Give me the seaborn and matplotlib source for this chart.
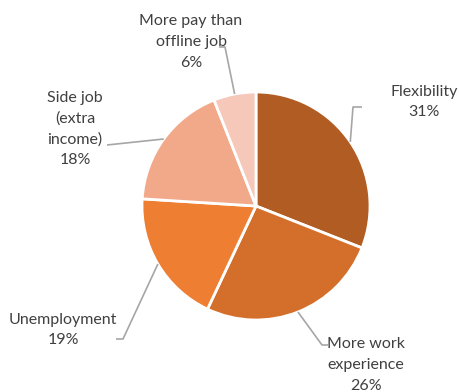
import matplotlib
matplotlib.use("Agg")
import matplotlib.pyplot as plt
import seaborn as sns
import numpy as np

# Reasons for working online (share of respondents, %)
categories = ["Flexibility", "More work\nexperience", "Unemployment",
              "Side job\n(extra\nincome)", "More pay than\noffline job"]
values = [31, 26, 19, 18, 6]
colors = ["#B15C22", "#D46F2B", "#EE7E32", "#F1A98A", "#F5C8BA"]

sns.set_theme(style="white")
plt.rcParams["font.family"] = ["Lato", "DejaVu Sans"]

W, H = 459, 392
fig = plt.figure(figsize=(W / 100, H / 100), dpi=100)
ax = fig.add_axes([0, 0, 1, 1])


def P(x, y):
    """Pixel position (top-left origin) to axes data coordinates."""
    return x, H - y


cx, cy = P(256, 206)
r = 114
wedges, _ = ax.pie(values, colors=colors, startangle=90, counterclock=False,
                   center=(cx, cy), radius=r, frame=True,
                   wedgeprops=dict(edgecolor="white", linewidth=2))
ax.set_xlim(0, W)
ax.set_ylim(0, H)
ax.set_aspect("equal")
ax.axis("off")

# leader line elbows and label anchors (pixel layout)
layout = [
    dict(elbow=[(353, 107), (362, 107)], text=(424, 102), ha="center"),
    dict(elbow=[(322, 345), (328, 345)], text=(327, 365), ha="left"),
    dict(elbow=[(123, 339), (116, 339)], text=(63, 330), ha="center"),
    dict(elbow=[(107, 145)], text=(75, 129), ha="center"),
    dict(elbow=[(225, 47), (219, 47)], text=(191, 42), ha="center"),
]

line_color = "#A6A6A6"
text_color = "#404040"
for w, cat, val, lay in zip(wedges, categories, values, layout):
    ang = np.deg2rad((w.theta1 + w.theta2) / 2)
    sx = cx + r * np.cos(ang)
    sy = cy + r * np.sin(ang)
    pts = [(sx, sy)] + [P(*p) for p in lay["elbow"]]
    xs, ys = zip(*pts)
    ax.plot(xs, ys, color=line_color, lw=1.2, solid_capstyle="butt")
    label = f"{cat}\n{val}%"
    tx, ty = P(*lay["text"])
    ax.text(tx, ty, label, ha=lay["ha"], va="center", fontsize=11.5,
            color=text_color, linespacing=1.6, multialignment="center")

fig.savefig("out.png", dpi=100, facecolor="white")
